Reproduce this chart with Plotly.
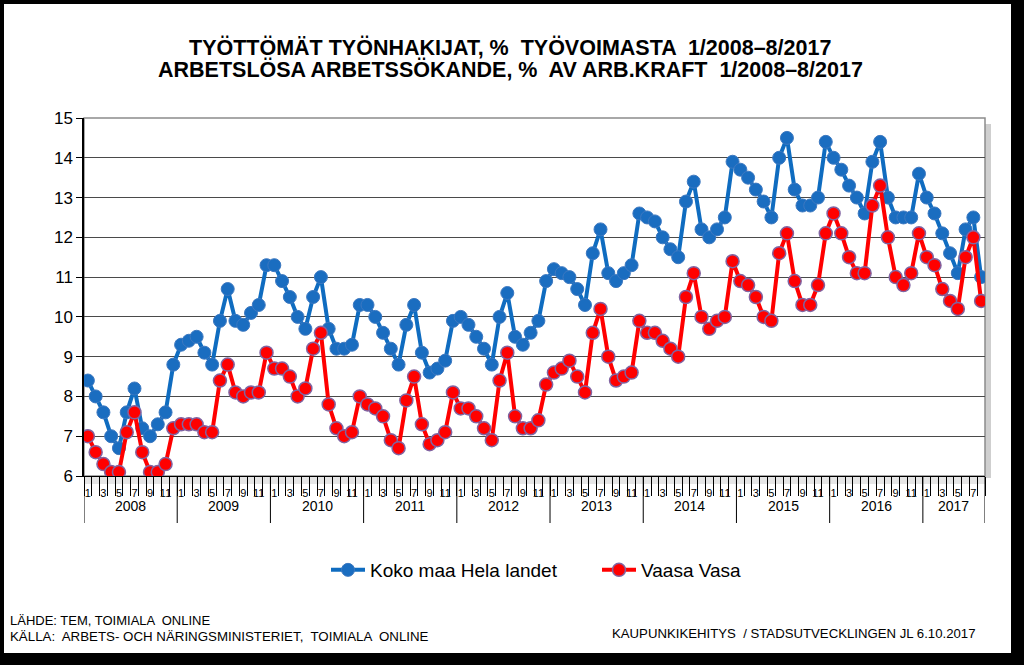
import plotly.graph_objects as go

years = ["2008", "2009", "2010", "2011", "2012", "2013", "2014", "2015", "2016", "2017"]
months_per_year = [12, 12, 12, 12, 12, 12, 12, 12, 12, 8]

koko_maa = [
    8.4, 8.0, 7.6, 7.0, 6.7, 7.6, 8.2, 7.2, 7.0, 7.3, 7.6, 8.8,
    9.3, 9.4, 9.5, 9.1, 8.8, 9.9, 10.7, 9.9, 9.8, 10.1, 10.3, 11.3,
    11.3, 10.9, 10.5, 10.0, 9.7, 10.5, 11.0, 9.7, 9.2, 9.2, 9.3, 10.3,
    10.3, 10.0, 9.6, 9.2, 8.8, 9.8, 10.3, 9.1, 8.6, 8.7, 8.9, 9.9,
    10.0, 9.8, 9.5, 9.2, 8.8, 10.0, 10.6, 9.5, 9.3, 9.6, 9.9, 10.9,
    11.2, 11.1, 11.0, 10.7, 10.3, 11.6, 12.2, 11.1, 10.9, 11.1, 11.3, 12.6,
    12.5, 12.4, 12.0, 11.7, 11.5, 12.9, 13.4, 12.2, 12.0, 12.2, 12.5, 13.9,
    13.7, 13.5, 13.2, 12.9, 12.5, 14.0, 14.5, 13.2, 12.8, 12.8, 13.0, 14.4,
    14.0, 13.7, 13.3, 13.0, 12.6, 13.9, 14.4, 13.0, 12.5, 12.5, 12.5, 13.6,
    13.0, 12.6, 12.1, 11.6, 11.1, 12.2, 12.5, 11.0,
]

vaasa = [
    7.0, 6.6, 6.3, 6.1, 6.1, 7.1, 7.6, 6.6, 6.1, 6.1, 6.3, 7.2,
    7.3, 7.3, 7.3, 7.1, 7.1, 8.4, 8.8, 8.1, 8.0, 8.1, 8.1, 9.1,
    8.7, 8.7, 8.5, 8.0, 8.2, 9.2, 9.6, 7.8, 7.2, 7.0, 7.1, 8.0,
    7.8, 7.7, 7.5, 6.9, 6.7, 7.9, 8.5, 7.3, 6.8, 6.9, 7.1, 8.1,
    7.7, 7.7, 7.5, 7.2, 6.9, 8.4, 9.1, 7.5, 7.2, 7.2, 7.4, 8.3,
    8.6, 8.7, 8.9, 8.5, 8.1, 9.6, 10.2, 9.0, 8.4, 8.5, 8.6, 9.9,
    9.6, 9.6, 9.4, 9.2, 9.0, 10.5, 11.1, 10.0, 9.7, 9.9, 10.0, 11.4,
    10.9, 10.8, 10.5, 10.0, 9.9, 11.6, 12.1, 10.9, 10.3, 10.3, 10.8, 12.1,
    12.6, 12.1, 11.5, 11.1, 11.1, 12.8, 13.3, 12.0, 11.0, 10.8, 11.1, 12.1,
    11.5, 11.3, 10.7, 10.4, 10.2, 11.5, 12.0, 10.4,
]

series_names = ["Koko maa Hela landet", "Vaasa Vasa"]
title_lines = [
    "TYÖTTÖMÄT TYÖNHAKIJAT, %  TYÖVOIMASTA  1/2008–8/2017",
    "ARBETSLÖSA ARBETSSÖKANDE, %  AV ARB.KRAFT  1/2008–8/2017",
]
source_lines = [
    "LÄHDE: TEM, TOIMIALA  ONLINE",
    "KÄLLA:  ARBETS- OCH NÄRINGSMINISTERIET,  TOIMIALA  ONLINE",
]
credit = "KAUPUNKIKEHITYS  / STADSUTVECKLINGEN JL 6.10.2017"

# month index and month number for every observation
month_no = []
for n_m in months_per_year:
    month_no += list(range(1, n_m + 1))
idx = list(range(len(month_no)))

FONT = "Liberation Sans, Arial, sans-serif"
NARROW = "Liberation Sans Narrow, Arial Narrow, Liberation Sans, Arial, sans-serif"

# pixel geometry of the plot area
W, H = 1024, 665
L, R, T, B = 84, 985, 118, 476
PW, PH = R - L, B - T


def px(xp):
    return (xp - L) / PW


def py(yp):
    return (B - yp) / PH


fig = go.Figure()
fig.add_trace(go.Scatter(
    x=idx, y=koko_maa, name=series_names[0], mode="lines+markers",
    line=dict(color="#0F6CC0", width=4),
    marker=dict(size=13, color="#1A6DC0", line=dict(color="#3C78C0", width=1)),
))
fig.add_trace(go.Scatter(
    x=idx, y=vaasa, name=series_names[1], mode="lines+markers",
    line=dict(color="#FF0000", width=4),
    marker=dict(size=13, color="#FF0000", line=dict(color="#8064A2", width=1.5)),
))

shapes = []
# white page inside the black frame
shapes.append(dict(type="rect", xref="paper", yref="paper", layer="below",
                   x0=px(4), x1=px(1011), y0=py(653), y1=py(4),
                   fillcolor="white", line=dict(width=0)))
# shadow on the right of the plot area
shapes.append(dict(type="rect", xref="paper", yref="paper", layer="below",
                   x0=px(985), x1=px(991), y0=py(478), y1=py(124),
                   fillcolor="#cfcfcf", line=dict(width=0)))
# light shading under the axis
shapes.append(dict(type="rect", xref="paper", yref="paper", layer="below",
                   x0=0, x1=1, y0=py(484), y1=py(476),
                   fillcolor="#e6e6e6", line=dict(width=0)))
# plot border (top/right grey)
shapes.append(dict(type="rect", xref="paper", yref="paper", layer="below",
                   x0=0, x1=1, y0=0, y1=1,
                   fillcolor="rgba(0,0,0,0)", line=dict(color="#8c8c8c", width=1.5)))

# year separators and labels
annotations = []
start = 0
bounds = [-0.5]
for yr, n_m in zip(years, months_per_year):
    end = start + n_m
    bounds.append(end - 0.5)
    annotations.append(dict(x=(start + end - 1) / 2, y=0, xref="x", yref="paper",
                            yshift=-40, text=yr, showarrow=False,
                            font=dict(family=FONT, size=14, color="black")))
    start = end
for b in bounds:
    shapes.append(dict(type="line", xref="x", yref="paper", x0=b, x1=b,
                       ysizemode="pixel", yanchor=0, y0=0, y1=-47,
                       line=dict(color="black", width=1)))

# titles
for text, ypix in zip(title_lines, [47, 70]):
    annotations.append(dict(x=px(510), y=py(ypix), xref="paper", yref="paper",
                            text="<b>" + text + "</b>", showarrow=False,
                            xanchor="center", yanchor="middle",
                            font=dict(family=NARROW, size=21.5, color="black")))

annotations.append(dict(x=px(8), y=py(620), xref="paper", yref="paper", text=source_lines[0],
                        showarrow=False, xanchor="left", yanchor="middle",
                        font=dict(family=NARROW, size=13, color="black")))
annotations.append(dict(x=px(8), y=py(636), xref="paper", yref="paper", text=source_lines[1],
                        showarrow=False, xanchor="left", yanchor="middle",
                        font=dict(family=NARROW, size=13.3, color="black")))
annotations.append(dict(x=px(978), y=py(633), xref="paper", yref="paper", text=credit,
                        showarrow=False, xanchor="right", yanchor="middle",
                        font=dict(family=NARROW, size=13.2, color="black")))

odd_idx = [i for i, m in zip(idx, month_no) if m % 2 == 1]
odd_txt = [str(m) for m in month_no if m % 2 == 1]

fig.update_layout(
    width=W, height=H,
    margin=dict(l=L, r=W - R, t=T, b=H - B, pad=0),
    paper_bgcolor="black",
    plot_bgcolor="rgba(0,0,0,0)",
    font=dict(family=FONT, color="black"),
    showlegend=True,
    legend=dict(orientation="h", x=px(326), xanchor="left", y=py(570), yanchor="middle",
                font=dict(family=FONT, size=19, color="black"),
                bgcolor="rgba(0,0,0,0)", itemwidth=34, entrywidth=222),
    shapes=shapes,
    annotations=annotations,
    xaxis=dict(
        range=[-0.5, len(idx) - 0.5],
        tickmode="array", tickvals=odd_idx, ticktext=odd_txt,
        ticks="", showgrid=False, zeroline=False,
        showline=True, linecolor="black", linewidth=1,
        tickfont=dict(family=FONT, size=11, color="black"),
        ticklabelstandoff=7,
        minor=dict(tickmode="array", tickvals=[i - 0.5 for i in range(len(idx) + 1)],
                   ticks="outside", ticklen=19, tickcolor="black", tickwidth=1,
                   showgrid=False),
    ),
    yaxis=dict(
        range=[6, 15], dtick=1, tick0=6,
        showgrid=True, gridcolor="#4a4a4a", gridwidth=1,
        zeroline=False, showline=True, linecolor="black", linewidth=1.5,
        ticks="outside", ticklen=6, tickcolor="black",
        tickfont=dict(family=FONT, size=17, color="black"),
    ),
)

fig.write_html("out.html", config={"displayModeBar": False},
               post_script="document.body.style.margin='0';document.body.style.background='black';")
